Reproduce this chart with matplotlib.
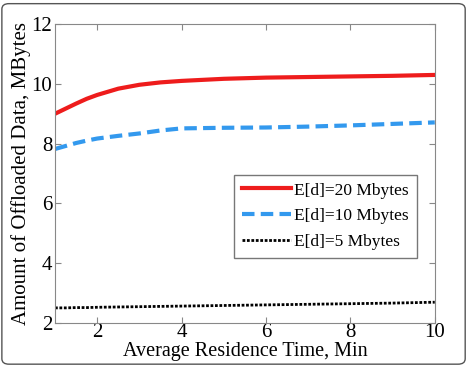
import matplotlib.pyplot as plt
from matplotlib.patches import FancyBboxPatch

plt.rcParams['font.family'] = ['Liberation Serif', 'DejaVu Serif']

residence = [1, 1.25, 1.5, 1.75, 2, 2.5, 3, 3.5, 4, 5, 6, 7, 8, 9, 10]
data_20 = [9.0, 9.17, 9.34, 9.5, 9.63, 9.84, 9.97, 10.05, 10.1, 10.17, 10.21, 10.23, 10.25, 10.27, 10.3]
data_10 = [7.82, 7.92, 8.02, 8.1, 8.17, 8.26, 8.34, 8.44, 8.51, 8.53, 8.54, 8.57, 8.61, 8.66, 8.71]
data_5 = [2.5, 2.5, 2.51, 2.51, 2.52, 2.53, 2.54, 2.55, 2.56, 2.58, 2.6, 2.62, 2.64, 2.66, 2.69]
labels = ["E[d]=20 Mbytes", "E[d]=10 Mbytes", "E[d]=5 Mbytes"]

fig = plt.figure(figsize=(4.68, 3.66), dpi=100)
ax = fig.add_axes([0.1175, 0.118, 0.8115, 0.816])

ax.plot(residence, data_20, color='#ee1c1c', linewidth=3, label=labels[0])
ax.plot(residence, data_10, color='#3399ee', linewidth=3, linestyle=(0, (3, 1.5)), label=labels[1])
ax.plot(residence, data_5, color='black', linewidth=2, linestyle=(0, (1, 0.6)), label=labels[2])

ax.set_xlim(1, 10)
ax.set_ylim(2, 12)
ax.set_xticks([2, 4, 6, 8, 10])
ax.set_yticks([2, 4, 6, 8, 10, 12])
ax.tick_params(direction='in', top=True, right=True, labelsize=15, length=4, color='#888888', pad=2)
ax.tick_params(axis='x', pad=0)
for s in ax.spines.values():
    s.set_color('#888888')

ax.set_xlabel("Average Residence Time, Min", fontsize=14.5, labelpad=0)
ax.set_ylabel("Amount of Offloaded Data, MBytes", fontsize=15, labelpad=0)

leg = ax.legend(loc='center right', bbox_to_anchor=(0.975, 0.357), fontsize=12.5,
                fancybox=False, framealpha=1, edgecolor='#777777', handlelength=2.8,
                handletextpad=0.2, borderpad=0.45, labelspacing=0.55)

border = FancyBboxPatch((0.004, 0.005), 0.99, 0.985, boxstyle="round,pad=0,rounding_size=0.015",
                        transform=fig.transFigure, fill=False, edgecolor='#555555', linewidth=1)
fig.patches.append(border)

fig.savefig("out.png", dpi=100)
